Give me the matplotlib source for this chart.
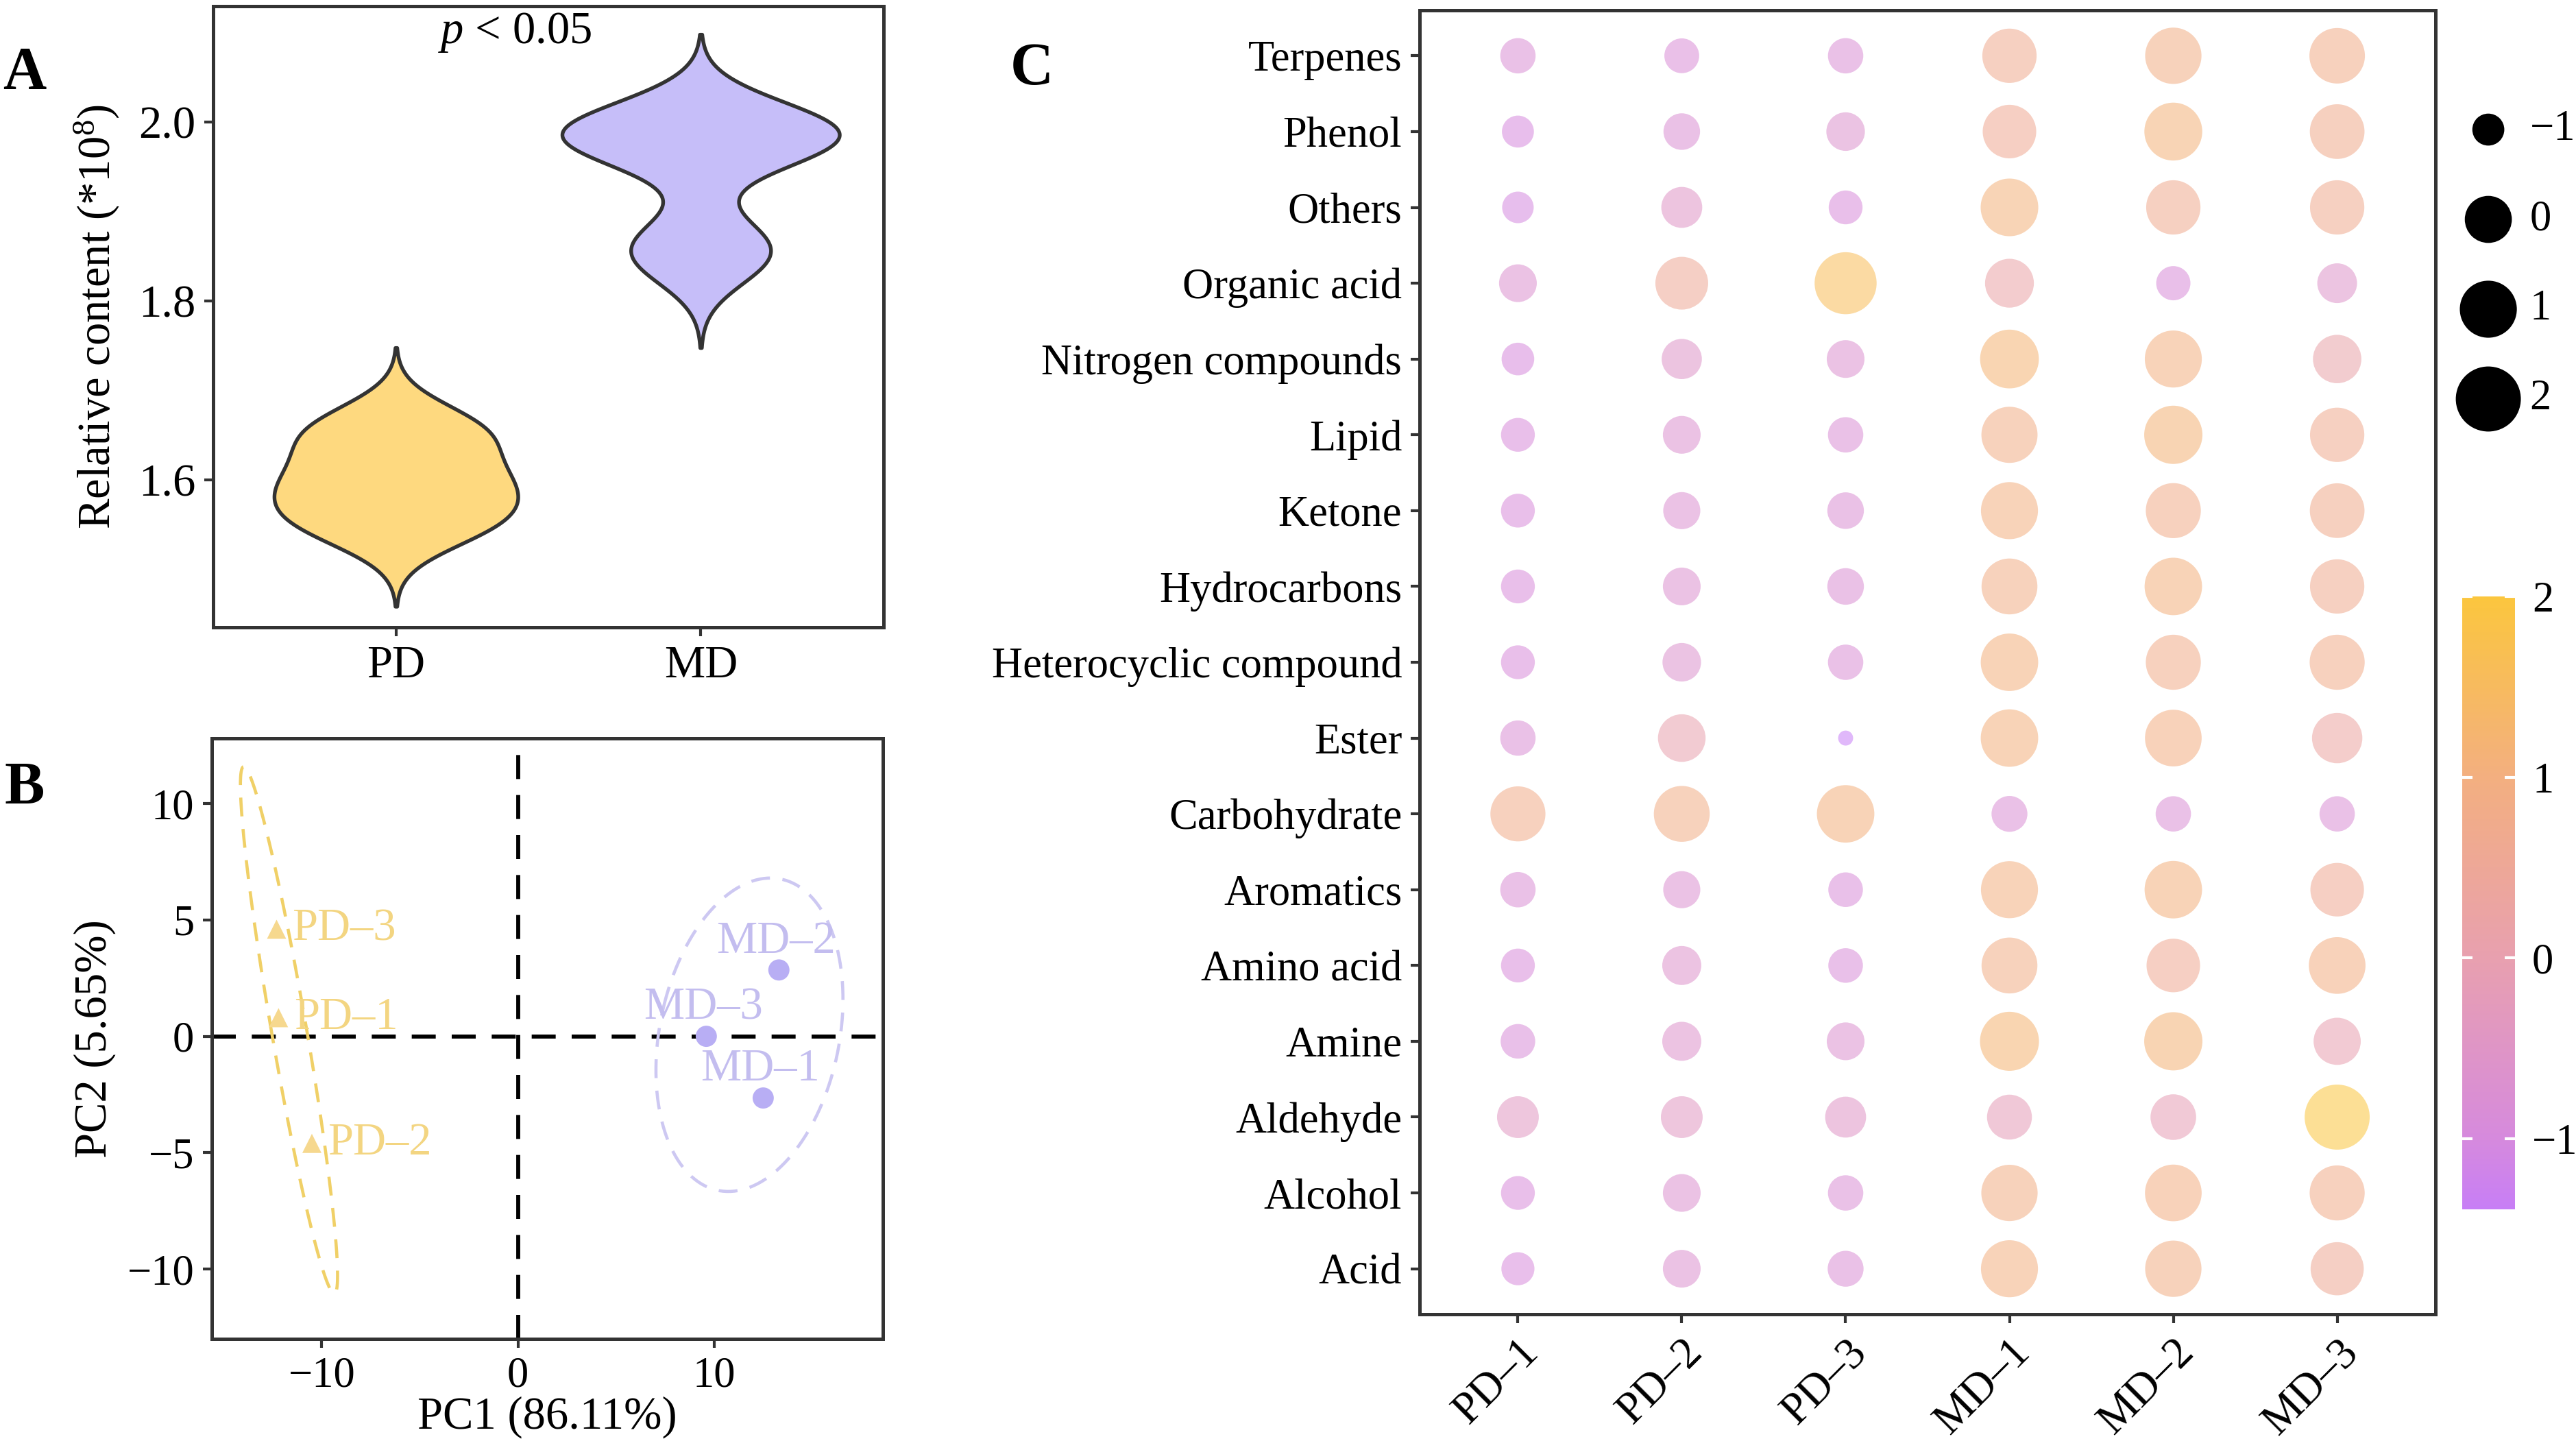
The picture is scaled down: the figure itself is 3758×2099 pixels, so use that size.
import numpy as np
import matplotlib
matplotlib.use("Agg")
import matplotlib.pyplot as plt
from matplotlib.colors import LinearSegmentedColormap, Normalize
from matplotlib.cm import ScalarMappable

plt.rcParams['font.family'] = ['Liberation Serif', 'DejaVu Serif']
plt.rcParams['mathtext.fontset'] = 'custom'
plt.rcParams['mathtext.rm'] = 'Liberation Serif'
plt.rcParams['mathtext.it'] = 'Liberation Serif:italic'
plt.rcParams['axes.unicode_minus'] = True

# ---------------- data ----------------
# A: relative content (*10^8) per group
groups = ["PD", "MD"]
pd_content = [1.552, 1.598, 1.655]
md_content = [1.856, 1.982, 1.990]
pd_bw = 0.031
md_bw = 0.036

# B: PCA scores
pd_names = ["PD–1", "PD–2", "PD–3"]
pd_pc1 = [-12.2, -10.5, -12.3]
pd_pc2 = [0.8, -4.6, 4.6]
md_names = ["MD–1", "MD–2", "MD–3"]
md_pc1 = [12.5, 13.3, 9.6]
md_pc2 = [-2.65, 2.85, 0.0]

# C: scaled content of compound classes (rows top -> bottom)
compounds = ["Terpenes", "Phenol", "Others", "Organic acid", "Nitrogen compounds",
             "Lipid", "Ketone", "Hydrocarbons", "Heterocyclic compound", "Ester",
             "Carbohydrate", "Aromatics", "Amino acid", "Amine", "Aldehyde",
             "Alcohol", "Acid"]
samples = ["PD–1", "PD–2", "PD–3", "MD–1", "MD–2", "MD–3"]
zscore = [
    [-0.83, -0.86, -0.83, 0.70, 0.92, 0.83],
    [-1.00, -0.76, -0.64, 0.62, 1.10, 0.74],
    [-1.02, -0.48, -0.91, 1.07, 0.70, 0.70],
    [-0.69, 0.54, 1.60, 0.16, -0.89, -0.56],
    [-0.97, -0.53, -0.69, 1.20, 1.00, 0.12],
    [-0.91, -0.69, -0.83, 0.90, 1.14, 0.70],
    [-0.91, -0.73, -0.76, 1.00, 0.78, 0.74],
    [-0.91, -0.69, -0.76, 0.87, 1.05, 0.70],
    [-0.91, -0.64, -0.83, 1.05, 0.78, 0.78],
    [-0.83, 0.05, -1.39, 1.05, 0.96, 0.30],
    [0.78, 0.87, 1.05, -0.80, -0.83, -0.83],
    [-0.83, -0.73, -0.87, 1.00, 1.05, 0.62],
    [-0.91, -0.61, -0.87, 0.87, 0.62, 0.96],
    [-0.87, -0.61, -0.69, 1.23, 1.14, 0.01],
    [-0.42, -0.42, -0.48, -0.18, -0.12, 2.00],
    [-0.91, -0.69, -0.83, 0.92, 0.96, 0.78],
    [-0.95, -0.69, -0.80, 1.00, 0.92, 0.58],
]
size_breaks = [-1, 0, 1, 2]
color_breaks = [-1, 0, 1, 2]

# ---------------- figure ----------------
W, H, DPI = 3758, 2099, 300
fig = plt.figure(figsize=(W / DPI, H / DPI), dpi=DPI)


def px_axes(left, top, right, bottom):
    return fig.add_axes([left / W, 1 - bottom / H, (right - left) / W, (bottom - top) / H])


def style_axes(ax):
    for s in ax.spines.values():
        s.set_color("#333333")
        s.set_linewidth(1.2)
    ax.tick_params(direction="out", length=3.2, width=1.0, color="#333333",
                   labelsize=15, labelcolor="black", pad=3)


edge = "#333333"
pd_fill = "#FED97F"
md_fill = "#C6BEF9"

# ---- A: violins
axA = px_axes(311, 9, 1289, 915)
style_axes(axA)


def kde(data, bw, grid):
    d = np.asarray(data)[:, None]
    return np.exp(-0.5 * ((grid[None, :] - d) / bw) ** 2).sum(axis=0) / (len(data) * bw * np.sqrt(2 * np.pi))


for pos, vals, bw, fill, width in [(1, pd_content, pd_bw, pd_fill, 0.80),
                                   (2, md_content, md_bw, md_fill, 0.91)]:
    yy = np.linspace(min(vals) - 3 * bw, max(vals) + 3 * bw, 400)
    dens = kde(vals, bw, yy)
    half = dens / dens.max() * width / 2
    axA.fill_betweenx(yy, pos - half, pos + half, facecolor=fill, edgecolor=edge, linewidth=1.3, zorder=2)

axA.set_xlim(0.4, 2.6)
axA.set_ylim(1.4356, 2.1295)
axA.set_xticks([1, 2])
axA.set_xticklabels(groups, fontsize=16)
axA.set_yticks([1.6, 1.8, 2.0])
axA.set_yticklabels(["1.6", "1.8", "2.0"], fontsize=16)
axA.set_ylabel("Relative content (*10$^{8}$)", fontsize=16, labelpad=6)
axA.text(1.39, 2.1, "$p$ < 0.05", ha="center", va="center", fontsize=16)

# ---- B: PCA
axB = px_axes(309, 1077, 1288, 1953)
style_axes(axB)
axB.axhline(0, color="black", lw=1.4, dashes=(6, 4), zorder=1)
axB.axvline(0, color="black", lw=1.4, dashes=(6, 4), zorder=1)

chi_r = np.sqrt(-2 * np.log(0.05))
theta = np.linspace(0, 2 * np.pi, 300)
for xs, ys, col in [(pd_pc1, pd_pc2, "#F0D067"), (md_pc1, md_pc2, "#CDC8F2")]:
    pts = np.column_stack([xs, ys])
    mu = pts.mean(axis=0)
    cov = np.cov(pts.T)
    evals, evecs = np.linalg.eigh(cov)
    circ = np.vstack([np.cos(theta), np.sin(theta)])
    ell = (evecs @ np.diag(np.sqrt(evals)) @ circ) * chi_r + mu[:, None]
    axB.plot(ell[0], ell[1], color=col, lw=1.1, dashes=(6, 4), zorder=2)

axB.scatter(pd_pc1, pd_pc2, marker="^", s=45, color="#F6D88E", edgecolors="none", zorder=3)
axB.scatter(md_pc1, md_pc2, marker="o", s=55, color="#B8AEF4", edgecolors="none", zorder=3)
for x, y, name in zip(pd_pc1, pd_pc2, pd_names):
    axB.annotate(name, (x, y), xytext=(5.5, 0), textcoords="offset points",
                 ha="left", va="center", fontsize=16, color="#F3D581")
for x, y, name in zip(md_pc1, md_pc2, md_names):
    axB.annotate(name, (x, y), xytext=(-1, 10), textcoords="offset points",
                 ha="center", va="center", fontsize=16, color="#C3BDEF")

axB.set_xlim(-15.6, 18.6)
axB.set_ylim(-13.0, 12.8)
axB.set_xticks([-10, 0, 10])
axB.set_yticks([-10, -5, 0, 5, 10])
axB.set_xlabel("PC1 (86.11%)", fontsize=16, labelpad=0)
axB.set_ylabel("PC2 (5.65%)", fontsize=16, labelpad=4)

# ---- C: bubble chart
axC = px_axes(2071, 15, 3553, 1917)
style_axes(axC)

vals = np.array(zscore)
vmin, vmax = vals.min(), vals.max()
cmap = LinearSegmentedColormap.from_list(
    "pg", [(0.0, "#C77EF6"), ((-1 - vmin) / (vmax - vmin), "#D68ADD"),
           ((0 - vmin) / (vmax - vmin), "#E8A0AF"), ((1 - vmin) / (vmax - vmin), "#F3AF80"),
           (1.0, "#FBC63E")])
norm = Normalize(vmin=vmin, vmax=vmax)


def bubble_area(v):
    t = (np.asarray(v) - vmin) / (vmax - vmin)
    d_px = 14.6 * (1.5 + 5 * np.sqrt(np.clip(t, 0, 1)))
    return (d_px * 72 / DPI) ** 2


nrow, ncol = vals.shape
xx, yy = np.meshgrid(np.arange(ncol), np.arange(nrow)[::-1])
axC.scatter(xx.ravel(), yy.ravel(), s=bubble_area(vals.ravel()), c=vals.ravel(),
            cmap=cmap, norm=norm, alpha=0.55, edgecolors="none", zorder=2)
axC.set_xlim(-0.6, ncol - 0.4)
axC.set_ylim(-0.6, nrow - 0.4)
axC.set_xticks(range(ncol))
axC.set_xticklabels(samples, rotation=45, ha="right", va="top", rotation_mode="anchor", fontsize=15.5)
axC.set_yticks(range(nrow))
axC.set_yticklabels(compounds[::-1], fontsize=15)

# size legend
lax = px_axes(3560, 120, 3758, 650)
lax.axis("off")
lax.set_xlim(0, 1)
lax.set_ylim(-3.519, 0.527)
ly = -np.arange(len(size_breaks))
lax.scatter(np.full(len(size_breaks), 0.354), ly, s=bubble_area(size_breaks), color="black", edgecolors="none")
for y, b in zip(ly, size_breaks):
    lax.text(0.66, y, "\u2212" + str(-b) if b < 0 else str(b), ha="left", va="center", fontsize=15)

# colour bar
cax = px_axes(3592, 870, 3669, 1764)
cb = fig.colorbar(ScalarMappable(norm=norm, cmap=cmap), cax=cax, ticks=color_breaks)
cb.outline.set_visible(False)
cax.tick_params(which="both", direction="in", length=3.6, width=1.0, color="white",
                left=True, right=True, labelsize=15, pad=6)
cb.ax.set_yticklabels(["\u22121", "0", "1", "2"])

# panel letters
fig.text(36 / W, 1 - 108 / H, "A", fontsize=21, fontweight="bold", ha="center", va="center")
fig.text(36 / W, 1 - 1150 / H, "B", fontsize=21, fontweight="bold", ha="center", va="center")
fig.text(1505 / W, 1 - 102 / H, "C", fontsize=21, fontweight="bold", ha="center", va="center")

fig.savefig("out.png", dpi=DPI)
